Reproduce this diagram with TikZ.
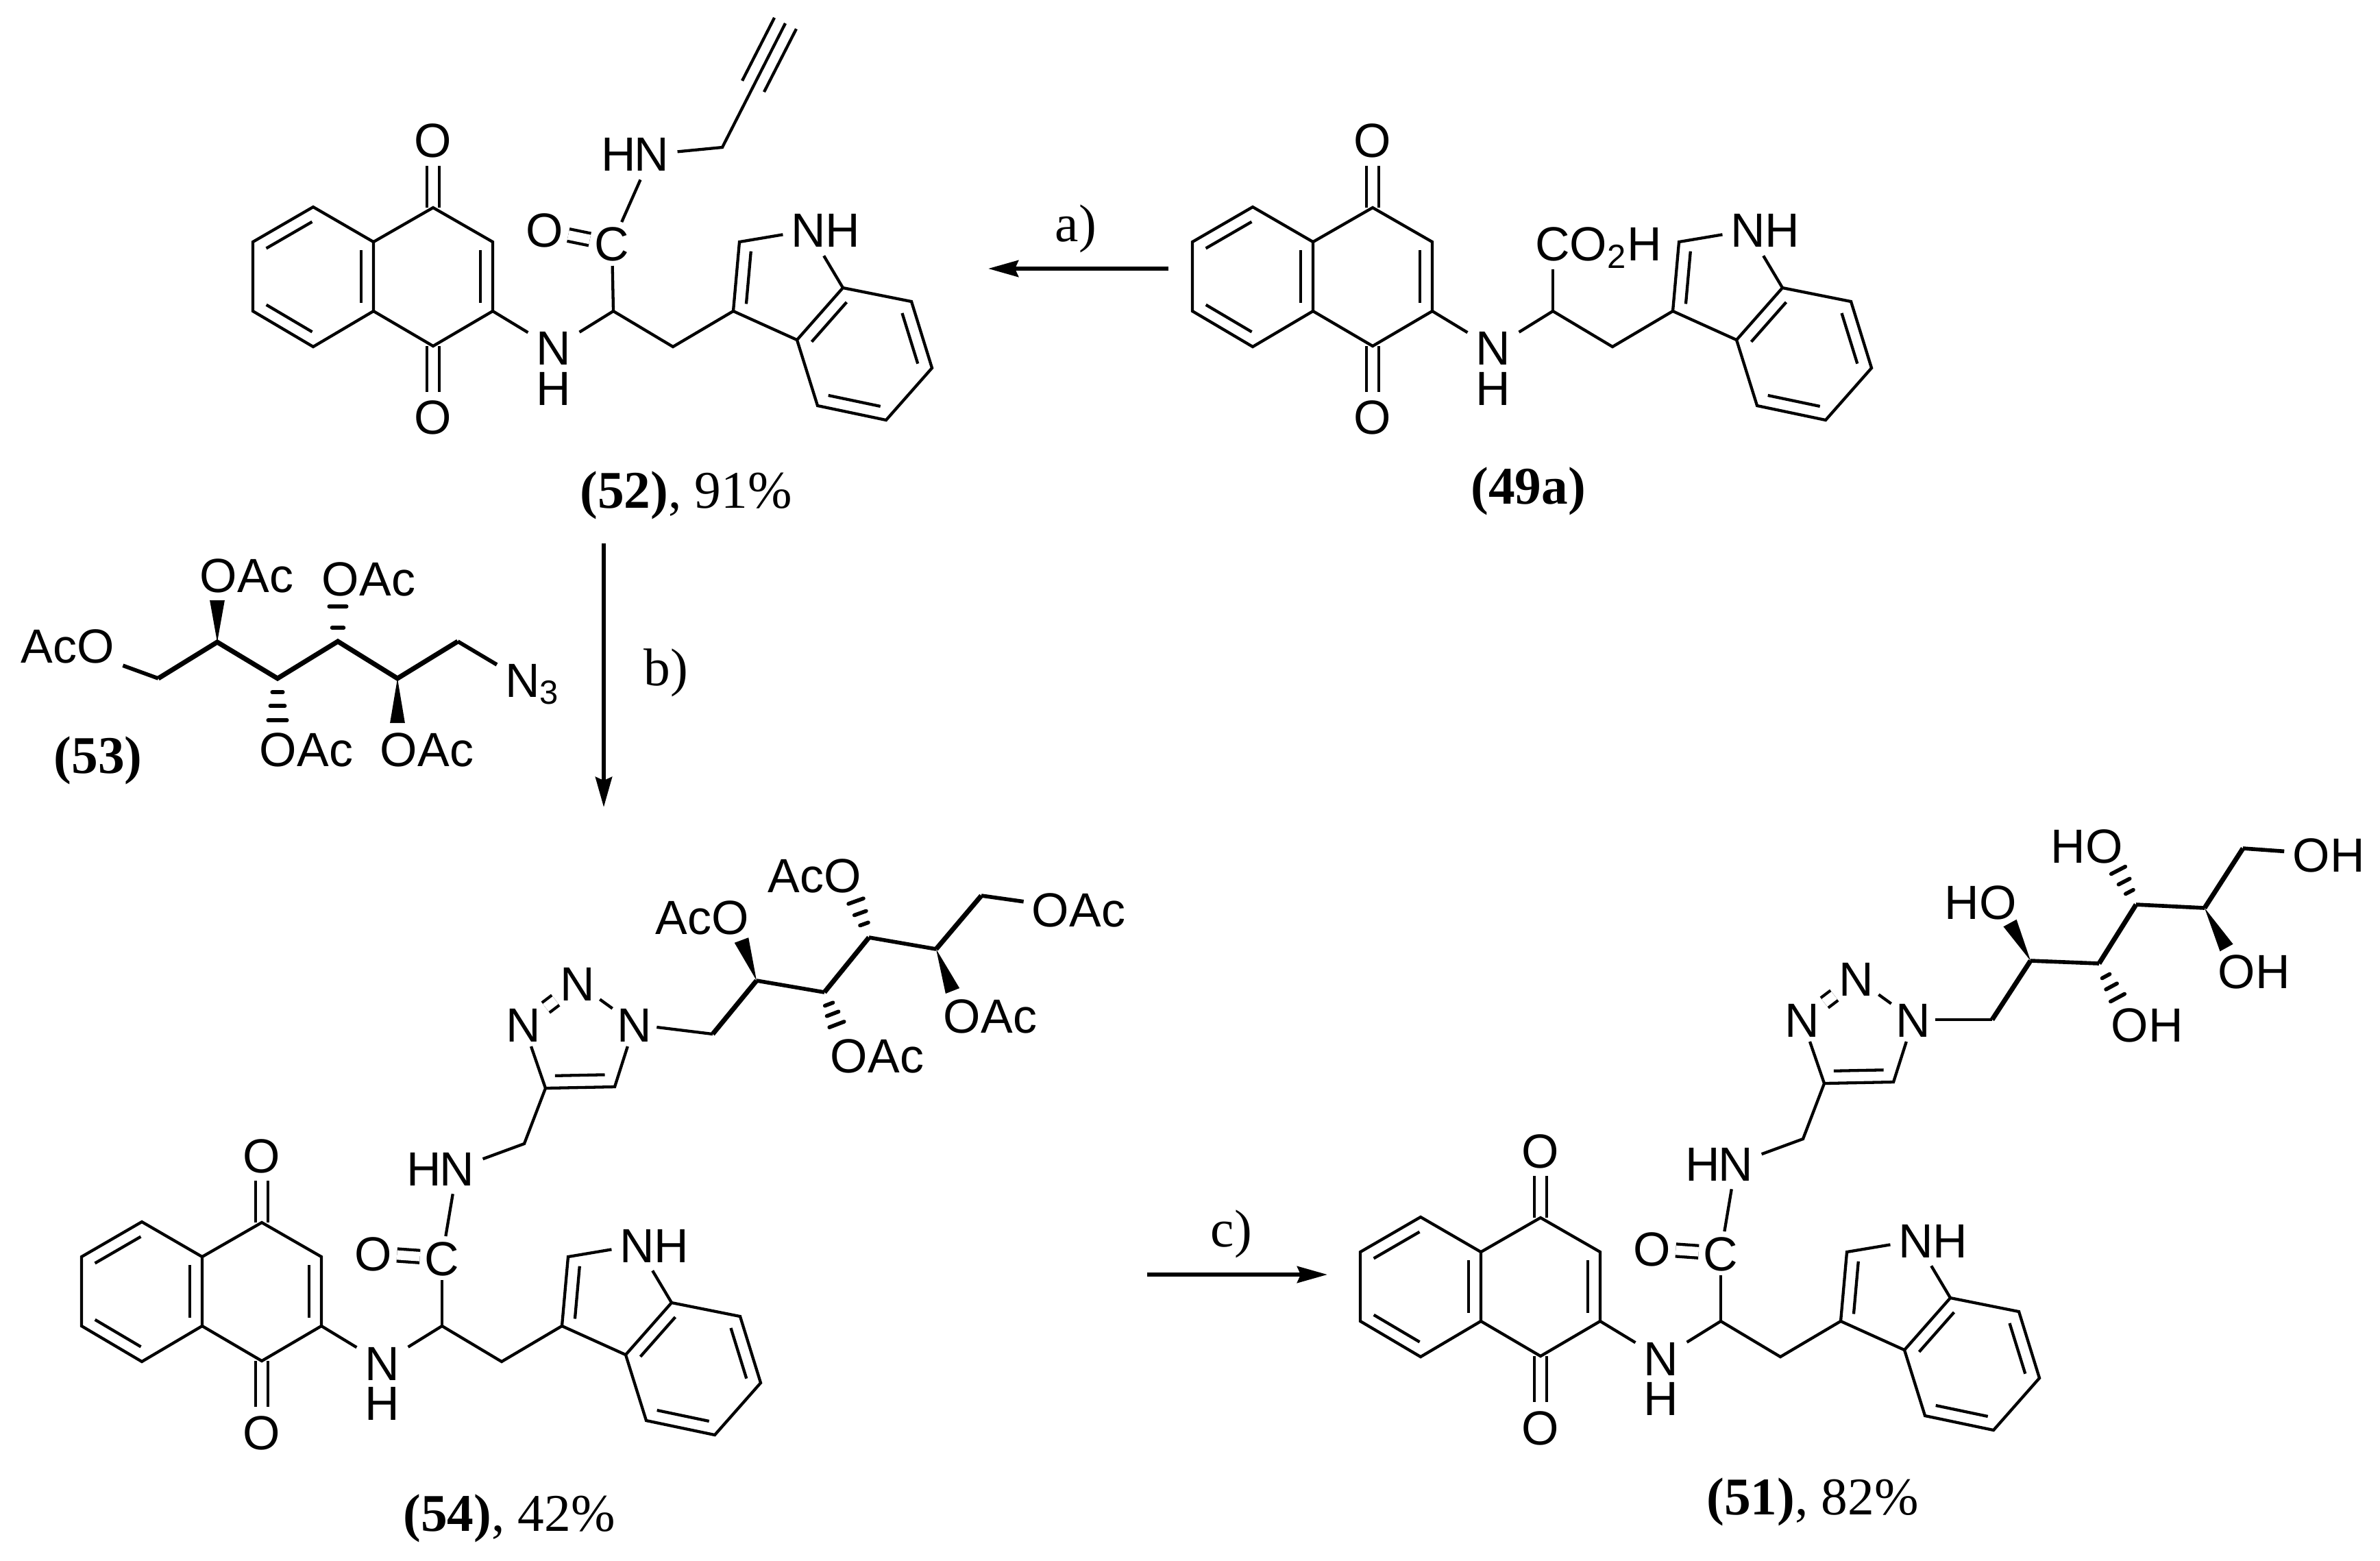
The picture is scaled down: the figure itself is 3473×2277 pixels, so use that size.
\documentclass[tikz,border=0pt]{standalone}
\usepackage{fontspec}
\setmainfont{Liberation Serif}
\setsansfont{Liberation Sans}
\usetikzlibrary{calc,arrows.meta}
\tikzset{
  atom/.style={font=\sffamily\fontsize{19.9}{22}\selectfont,inner sep=3.5pt,outer sep=0pt,text height=14.2pt,text depth=0pt},
  tightatom/.style={atom,inner sep=2pt},
  tag/.style={font=\fontsize{22}{24}\selectfont,inner sep=0pt,anchor=base},
  bond/.style={line width=1.22pt,line join=miter},
  midbond/.style={line width=1.6pt,line join=miter},
  fatbond/.style={line width=2pt,line join=miter},
  hash/.style={line width=1.6pt,line cap=round},
  oxo/.style={line width=1.22pt,double,double distance=3.9pt},
  rxn/.style={line width=1.7pt,-{Stealth[length=4.4mm,width=2.4mm,inset=0.5mm]}}
}
\newcommand{\innerbond}[3][.12]{\draw[bond] ($(#2)!#1!(#3)!5.1pt!90:(#3)$) -- ($(#3)!#1!(#2)!5.1pt!-90:(#2)$);}
\newcommand{\wedgebond}[2]{\fill ($(#2)!3.1pt!90:(#1)$) -- (#1) -- ($(#2)!3.1pt!-90:(#1)$) -- cycle;}
\newcommand{\hashbond}[3][.37/1.8pt,.67/2.6pt,1/3.3pt]{\foreach \f/\w in {#1} {\draw[hash] ($(#2)!\f!(#3)!\w!90:(#2)$) -- ($(#2)!\f!(#3)!\w!-90:(#2)$);}}
\newcommand{\quinonetrp}[3]{
  \begin{scope}[shift={(#2,#3)}]
    \coordinate (#1top) at (-438,-152);
    \coordinate (#1ul) at (-526,-101);
    \coordinate (#1ll) at (-526,0);
    \coordinate (#1bot) at (-438,52);
    \coordinate (#1lr) at (-350,0);
    \coordinate (#1ur) at (-350,-101);
    \coordinate (#1ca) at (-263,-151);
    \coordinate (#1cb) at (-176,-101);
    \coordinate (#1cc) at (-176,0);
    \coordinate (#1cd) at (-263,51);
    \coordinate (#1ch) at (0,0);
    \coordinate (#1me) at (87,52);
    \coordinate (#1cthree) at (175,0);
    \coordinate (#1ctwo) at (184,-101);
    \coordinate (#1seva) at (335,-34);
    \coordinate (#1thra) at (268,42);
    \coordinate (#1cfour) at (298,138);
    \coordinate (#1cfive) at (398,159);
    \coordinate (#1csix) at (465,83);
    \coordinate (#1csev) at (435,-14);
    \node[atom] (#1oa) at (-263,-249) {O};
    \node[atom] (#1ob) at (-263,155) {O};
    \node[atom] (#1n) at (-87,54) {N};
    \node[atom,inner sep=0pt,text height=13pt] (#1h) at (-87,115) {H};
    \node[atom] (#1nind) at (285,-118) {N};
    \node[atom] (#1hind) at (335,-118) {H};
  \end{scope}
  \draw[oxo] (#1ca) -- (#1oa);
  \draw[oxo] (#1cd) -- (#1ob);
  \draw[bond] (#1top) -- (#1ul) -- (#1ll) -- (#1bot) -- (#1lr) -- (#1ur) -- cycle;
  \draw[bond] (#1ur) -- (#1ca) -- (#1cb) -- (#1cc) -- (#1cd) -- (#1lr);
  \draw[bond] (#1cc) -- (#1n) -- (#1ch) -- (#1me) -- (#1cthree) -- (#1ctwo) -- (#1nind);
  \draw[bond] (#1cthree) -- (#1thra);
  \draw[bond] (#1thra) -- (#1seva) -- (#1csev) -- (#1csix) -- (#1cfive) -- (#1cfour) -- cycle;
  \draw[bond] (#1seva) -- (#1nind);
  \innerbond{#1top}{#1ul}
  \innerbond{#1ll}{#1bot}
  \innerbond{#1lr}{#1ur}
  \innerbond{#1cc}{#1cb}
  \innerbond{#1ctwo}{#1cthree}
  \innerbond{#1seva}{#1thra}
  \innerbond{#1csix}{#1csev}
  \innerbond{#1cfour}{#1cfive}
}
\newcommand{\triazolearm}[3]{
  \begin{scope}[shift={(#2,#3)}]
    \node[tightatom] (#1co) at (0,-99) {C};
    \node[tightatom] (#1oc) at (-100,-106) {O};
    \node[atom] (#1ham) at (-26,-230) {H};
    \node[atom] (#1nam) at (22,-230) {N};
    \coordinate (#1cm) at (120,-266);
    \coordinate (#1tra) at (151,-347);
    \coordinate (#1trb) at (252,-349);
    \node[tightatom] (#1nta) at (281,-440) {N};
    \node[tightatom] (#1ntb) at (198,-500) {N};
    \node[tightatom] (#1ntc) at (119,-440) {N};
  \end{scope}
  \draw[oxo] (#1oc) -- (#1co);
  \draw[bond] (#1ch) -- (#1co);
  \draw[bond] (#1co) -- (#1nam) -- (#1cm) -- (#1tra) -- (#1ntc);
  \draw[bond] (#1tra) -- (#1trb) -- (#1nta) -- (#1ntb);
  \draw[oxo] (#1ntc) -- (#1ntb);
  \innerbond[.14]{#1tra}{#1trb}
}
\begin{document}
\begin{tikzpicture}[x=0.01cm,y=-0.01cm]
  \useasboundingbox (0,0) rectangle (3473,2277);

  \quinonetrp{ma}{895}{454}
  \begin{scope}[shift={(895,454)}]
    \node[tightatom] (maco) at (-2,-98) {C};
    \node[tightatom] (maoc) at (-100,-118) {O};
    \node[atom] (maham) at (8,-229) {H};
    \node[atom] (manam) at (56,-229) {N};
    \coordinate (macm) at (159,-239);
    \coordinate (masp) at (204,-328);
    \coordinate (maend) at (251,-420);
  \end{scope}
  \draw[oxo] (maoc) -- (maco);
  \draw[bond] (mach) -- (maco);
  \draw[bond] (maco) -- (manam) -- (macm) -- (maend);
  \innerbond[0]{masp}{maend}
  \innerbond[0]{maend}{masp}
  \node[tag] (tagma) at (1001,741) {\textbf{(52)}, 91\%};

  \quinonetrp{mb}{2266}{454}
  \node[atom,anchor=west] (mbacid) at (2228,356) {CO\textsubscript{2}H};
  \draw[bond] (mbch) -- (mbch |- mbacid.south);
  \node[tag] (tagmb) at (2230,735) {\textbf{(49a)}};

  \coordinate (atail) at (1705,392);
  \coordinate (ahead) at (1442,392);
  \draw[rxn] (atail) -- (ahead);
  \node[tag] (laba) at (1570,352) {a)};

  \coordinate (btail) at (881,793);
  \coordinate (bhead) at (881,1178);
  \draw[rxn] (btail) -- (bhead);
  \node[tag] (labb) at (972,1000) {b)};

  \coordinate (ctail) at (1674,1860);
  \coordinate (chead) at (1937,1860);
  \draw[rxn] (ctail) -- (chead);
  \node[tag] (labc) at (1797,1819) {c)};

  \node[atom] (saco) at (99,942) {AcO};
  \coordinate (sma) at (231,990);
  \coordinate (sca) at (317,937);
  \coordinate (scb) at (405,990);
  \coordinate (scc) at (493,936);
  \coordinate (scd) at (580,990);
  \coordinate (smb) at (668,936);
  \node[atom,anchor=west] (snthree) at (725,992) {N\textsubscript{3}};
  \node[atom] (soa) at (360,840) {OAc};
  \node[atom] (sob) at (538,845) {OAc};
  \node[atom] (soc) at (447,1093) {OAc};
  \node[atom] (sod) at (623,1093) {OAc};
  \coordinate (swa) at (317,876);
  \coordinate (swd) at (580,1055);
  \coordinate (shb) at (493,885);
  \coordinate (shc) at (405,1051);
  \draw[midbond] (saco) -- (sma);
  \draw[fatbond] (sma) -- (sca) -- (scb) -- (scc) -- (scd) -- (smb);
  \draw[midbond] (smb) -- (snthree.157);
  \wedgebond{sca}{swa}
  \wedgebond{scd}{swd}
  \hashbond[.39/2.4pt,1/3.6pt]{scc}{shb}
  \hashbond[.33/2.2pt,.66/3pt,1/3.9pt]{scb}{shc}
  \node[tag] (tagsa) at (143,1128) {\textbf{(53)}};

  \quinonetrp{mc}{645}{1935}
  \triazolearm{mc}{645}{1935}
  \coordinate (tma) at (1040,1509);
  \coordinate (tca) at (1104,1431);
  \coordinate (tcb) at (1203,1448);
  \coordinate (tcc) at (1268,1368);
  \coordinate (tcd) at (1366,1385);
  \coordinate (tmb) at (1432,1307);
  \node[atom] (toa) at (1025,1338) {AcO};
  \node[atom] (tob) at (1189,1277) {AcO};
  \node[atom] (toc) at (1280,1540) {OAc};
  \node[atom] (tod) at (1445,1482) {OAc};
  \node[atom] (toe) at (1574,1327) {OAc};
  \coordinate (twa) at (1082,1372);
  \coordinate (twd) at (1390,1446);
  \coordinate (thb) at (1249,1315);
  \coordinate (thc) at (1221,1495);
  \draw[bond] (mcnta) -- (tma);
  \draw[fatbond] (tma) -- (tca);
  \draw[midbond] (tca) -- (tcb);
  \draw[fatbond] (tcb) -- (tcc);
  \draw[midbond] (tcc) -- (tcd);
  \draw[fatbond] (tcd) -- (tmb);
  \draw[midbond] (tmb) -- (toe);
  \wedgebond{tca}{twa}
  \wedgebond{tcd}{twd}
  \hashbond{tcc}{thb}
  \hashbond{tcb}{thc}
  \node[tag] (tagmc) at (743,2234) {\textbf{(54)}, 42\%};

  \quinonetrp{md}{2511}{1928}
  \triazolearm{md}{2511}{1928}
  \coordinate (uma) at (2907,1488);
  \coordinate (uca) at (2963,1402);
  \coordinate (ucb) at (3063,1406);
  \coordinate (ucc) at (3117,1320);
  \coordinate (ucd) at (3217,1325);
  \coordinate (umb) at (3273,1238);
  \node[atom] (uoa) at (2890,1316) {HO};
  \node[atom] (uob) at (3045,1234) {HO};
  \node[atom] (uoc) at (3133,1495) {OH};
  \node[atom] (uod) at (3289,1417) {OH};
  \node[atom] (uoe) at (3398,1247) {OH};
  \coordinate (uwa) at (2933,1347);
  \coordinate (uwd) at (3249,1383);
  \coordinate (uhb) at (3091,1270);
  \coordinate (uhc) at (3090,1456);
  \draw[bond] (mdnta) -- (uma);
  \draw[fatbond] (uma) -- (uca);
  \draw[midbond] (uca) -- (ucb);
  \draw[fatbond] (ucb) -- (ucc);
  \draw[midbond] (ucc) -- (ucd);
  \draw[fatbond] (ucd) -- (umb);
  \draw[midbond] (umb) -- (uoe);
  \wedgebond{uca}{uwa}
  \wedgebond{ucd}{uwd}
  \hashbond{ucc}{uhb}
  \hashbond{ucb}{uhc}
  \node[tag] (tagmd) at (2645,2210) {\textbf{(51)}, 82\%};
\end{tikzpicture}
\end{document}
